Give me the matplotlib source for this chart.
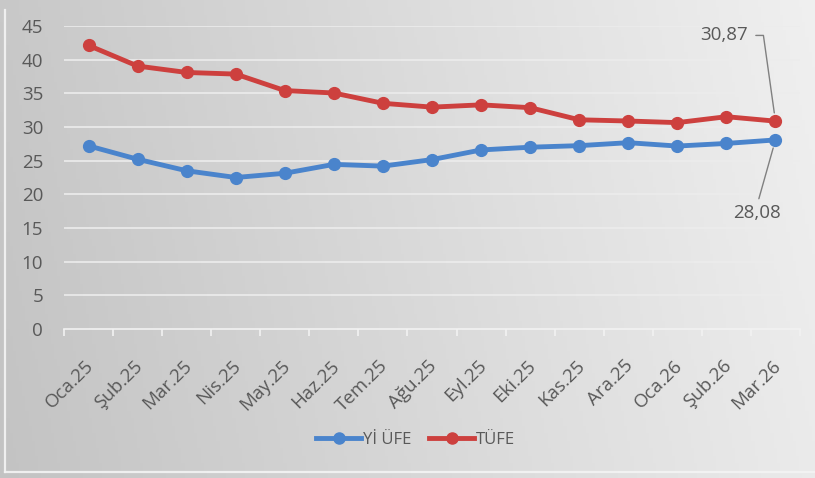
import numpy as np
import matplotlib
matplotlib.use("Agg")
import matplotlib.pyplot as plt
import matplotlib.transforms as mtransforms
from matplotlib.lines import Line2D

months = ["Oca.25", "Şub.25", "Mar.25", "Nis.25", "May.25", "Haz.25", "Tem.25",
          "Ağu.25", "Eyl.25", "Eki.25", "Kas.25", "Ara.25", "Oca.26", "Şub.26", "Mar.26"]
yi_ufe = [27.20, 25.21, 23.50, 22.50, 23.13, 24.45, 24.19, 25.16, 26.59, 27.00,
          27.23, 27.67, 27.17, 27.56, 28.08]
tufe = [42.12, 39.05, 38.10, 37.86, 35.41, 35.05, 33.52, 32.95, 33.29, 32.87,
        31.07, 30.89, 30.65, 31.53, 30.87]
yticks = [0, 5, 10, 15, 20, 25, 30, 35, 40, 45]

BLUE = "#4a84cc"
RED = "#cd403e"
TXT = "#595959"

plt.rcParams['font.family'] = ['Open Sans', 'DejaVu Sans']

W, H = 815, 478
fig = plt.figure(figsize=(W / 100, H / 100), dpi=100)

# background gradient
bg = fig.add_axes([0, 0, 1, 1], zorder=-10)
gx = np.linspace(0, 1, 256)
gy = np.linspace(0, 1, 64)
GX, GY = np.meshgrid(gx, gy)
val = 0.765 + 0.155 * GX + 0.02 * GY
img = np.dstack([val, val, val])
bg.imshow(img, aspect='auto', extent=[0, 1, 0, 1], origin='lower')
bg.set_xlim(0, 1)
bg.set_ylim(0, 1)
bg.axis('off')
# frame lines
bg.plot([5 / W, 5 / W], [1 - 10 / H, 1 - 472 / H], color="#f4f4f4", lw=1.6, alpha=0.9)
bg.plot([5 / W, 1], [1 - 472 / H, 1 - 472 / H], color="#f4f4f4", lw=1.6, alpha=0.9)

ax = fig.add_axes([64 / W, 1 - 329 / H, 736 / W, 303 / H])
ax.patch.set_alpha(0)
x = np.arange(len(months))
ax.set_xlim(-0.5, len(months) - 0.5)
ax.set_ylim(0, 45)

for y in yticks[1:]:
    ax.axhline(y, color="#ececec", lw=1.2, zorder=1)

ax.plot(x, yi_ufe, color=BLUE, lw=3.5, marker='o', ms=8.5, zorder=3, solid_capstyle='round')
ax.plot(x, tufe, color=RED, lw=3.5, marker='o', ms=8.5, zorder=3, solid_capstyle='round')

for s in ['top', 'right', 'left']:
    ax.spines[s].set_visible(False)
ax.spines['bottom'].set_color("#f2f2f2")
ax.spines['bottom'].set_linewidth(1.2)

ax.set_yticks(yticks)
ax.set_yticklabels([str(v) for v in yticks], fontsize=13.5, color=TXT)
ax.tick_params(axis='y', length=0, pad=15)

ax.set_xticks(x)
ax.set_xticklabels(months, rotation=45, ha='right', rotation_mode='anchor',
                   fontsize=13.5, color=TXT)
ax.tick_params(axis='x', length=0, pad=20)
shift = mtransforms.ScaledTranslation(-4 / 100, 0, fig.dpi_scale_trans)
for lbl in ax.get_xticklabels():
    lbl.set_transform(lbl.get_transform() + shift)
ax.set_xticks(np.arange(-0.5, len(months), 1), minor=True)
ax.tick_params(axis='x', which='minor', length=5, color="#f2f2f2", width=1.2)

# annotations
ax.annotate(f"{tufe[-1]:.2f}".replace('.', ','), xy=(x[-1], tufe[-1]),
            xytext=(x[-1] - 0.57, 43.6), textcoords='data',
            ha='right', va='center', fontsize=13.5, color=TXT,
            arrowprops=dict(arrowstyle='-', color="#808080", lw=1,
                            connectionstyle="angle,angleA=0,angleB=98,rad=0",
                            shrinkA=4, shrinkB=6))
ax.annotate(f"{yi_ufe[-1]:.2f}".replace('.', ','), xy=(x[-1], yi_ufe[-1]),
            xytext=(x[-1] - 0.37, 17.2), textcoords='data',
            ha='center', va='center', fontsize=13.5, color=TXT,
            arrowprops=dict(arrowstyle='-', color="#808080", lw=1,
                            relpos=(0.5, 1.0), shrinkA=2, shrinkB=6))

handles = [Line2D([], [], color=BLUE, lw=3.5, marker='o', ms=8),
           Line2D([], [], color=RED, lw=3.5, marker='o', ms=8)]
fig.legend(handles, ["Yİ ÜFE", "TÜFE"], loc='center', bbox_to_anchor=(0.51, 1 - 440 / H),
           ncol=2, frameon=False, fontsize=12, labelcolor=TXT,
           handlelength=2.7, handletextpad=0.1, columnspacing=1.1)

fig.savefig("out.png", dpi=100)
